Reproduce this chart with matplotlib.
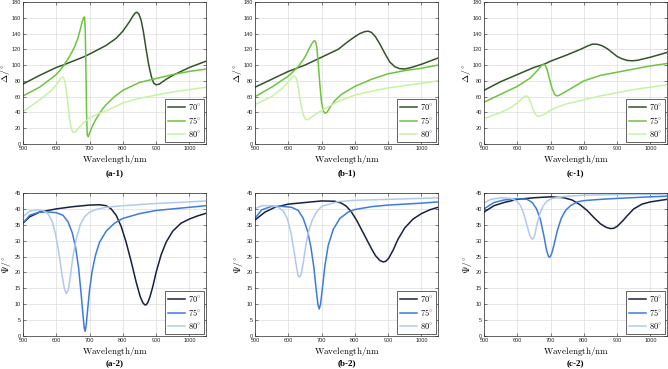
import matplotlib
matplotlib.use("Agg")
import matplotlib.pyplot as plt

plt.rcParams['mathtext.fontset'] = 'cm'
plt.rcParams['font.family'] = ['Liberation Sans', 'DejaVu Sans']

angles = ["70", "75", "80"]
green_colors = ["#34532a", "#6cc43f", "#c6f3a0"]
blue_colors = ["#17203f", "#3c7be0", "#b0c9f0"]

# ---- (a-1) Delta ----
a1_x70 = [500, 550, 600, 620, 680, 700, 750, 780, 800, 820, 830, 837, 842, 848, 855, 862, 870, 878, 886, 893, 900, 910, 930, 950, 1000, 1050]
a1_y70 = [76, 87, 97, 100, 110, 114, 125, 134, 143, 155, 162, 166, 167, 165, 157, 142, 120, 100, 85, 77, 75, 76, 82, 87, 97, 105]
a1_x75 = [500, 550, 600, 620, 640, 655, 665, 672, 678, 682, 685, 687, 689, 691, 693, 696, 700, 710, 720, 735, 750, 775, 800, 850, 900, 950, 1000, 1050]
a1_y75 = [61, 72, 88, 98, 111, 123, 134, 145, 155, 160, 161, 145, 100, 40, 12, 9, 14, 24, 32, 42, 50, 60, 68, 78, 83, 88, 92, 95]
a1_x80 = [500, 530, 560, 585, 600, 608, 614, 618, 622, 627, 633, 640, 645, 650, 656, 665, 680, 700, 725, 750, 800, 850, 900, 950, 1000, 1050]
a1_y80 = [41, 50, 59, 68, 75, 80, 84, 85, 84, 77, 58, 32, 20, 15, 15, 19, 26, 33, 38, 42, 52, 58, 62, 66, 69, 72]

# ---- (b-1) Delta ----
b1_x70 = [500, 550, 600, 650, 700, 750, 780, 800, 815, 830, 840, 850, 862, 875, 890, 905, 920, 935, 950, 970, 1000, 1050]
b1_y70 = [72, 82, 92, 100, 110, 120, 130, 136, 140, 142.5, 143, 141.5, 136, 127, 115, 104, 98, 95.5, 95, 97, 101, 109]
b1_x75 = [500, 550, 600, 630, 650, 663, 672, 678, 682, 686, 690, 695, 700, 705, 710, 716, 725, 740, 760, 800, 850, 900, 950, 1000, 1050]
b1_y75 = [60, 72, 86, 98, 110, 121, 128, 131, 130, 122, 103, 75, 53, 42, 39, 40, 46, 55, 63, 73, 82, 89, 93, 96, 100]
b1_x80 = [500, 550, 580, 600, 610, 617, 622, 627, 632, 638, 645, 652, 660, 670, 690, 720, 750, 800, 850, 900, 950, 1000, 1050]
b1_y80 = [50, 60, 70, 79, 84, 86, 85, 79, 66, 50, 37, 31, 31, 34, 40, 47, 54, 62, 67, 71, 74, 77, 80]

# ---- (c-1) Delta ----
c1_x70 = [500, 550, 600, 650, 680, 700, 750, 790, 810, 825, 840, 855, 870, 885, 900, 915, 930, 945, 960, 980, 1000, 1050]
c1_y70 = [68, 79, 88, 97, 101, 105, 113, 120, 124, 126.5, 126.5, 124.5, 121, 116, 111, 108, 106, 105.5, 106, 108, 110, 116]
c1_x75 = [500, 550, 600, 640, 660, 672, 678, 684, 690, 697, 705, 712, 718, 725, 735, 760, 800, 850, 900, 950, 1000, 1050]
c1_y75 = [53, 63, 73, 84, 93, 99, 101, 100, 94, 82, 70, 63, 61, 61.5, 64, 70, 80, 87, 91, 95, 99, 102]
c1_x80 = [500, 550, 580, 600, 615, 623, 628, 633, 640, 648, 655, 662, 670, 685, 700, 725, 750, 800, 850, 900, 950, 1000, 1050]
c1_y80 = [32, 40, 46, 52, 58, 60.5, 61, 59.5, 53, 43, 37.5, 35, 35.5, 38.5, 43, 47.5, 51, 56, 61, 65, 69, 72, 75]

# ---- (a-2) Psi ----
a2_x70 = [500, 520, 550, 600, 650, 700, 730, 750, 765, 780, 795, 810, 825, 840, 852, 860, 866, 870, 875, 882, 890, 900, 915, 930, 950, 975, 1000, 1025, 1050]
a2_y70 = [35.5, 37.5, 39, 40, 40.7, 41.2, 41.3, 41, 40, 38, 34.5, 29.5, 23.5, 17, 12.5, 10.5, 9.8, 9.8, 10.5, 12.5, 15.5, 20, 25.5, 29.5, 33, 35.5, 36.8, 37.8, 38.6]
a2_x75 = [500, 520, 550, 580, 600, 620, 635, 648, 658, 667, 675, 680, 684, 687, 690, 694, 700, 708, 718, 730, 750, 775, 800, 850, 900, 950, 1000, 1050]
a2_y75 = [35.5, 38, 39, 39, 38.8, 38, 36, 32.5, 28, 21.5, 13, 7, 2.5, 1.5, 3.5, 8, 14.5, 20.5, 25.5, 29.5, 33, 35.5, 37, 38.5, 39.5, 40, 40.5, 41]
a2_x80 = [500, 520, 540, 560, 575, 588, 598, 608, 617, 624, 630, 636, 642, 650, 660, 672, 685, 700, 725, 750, 800, 900, 1000, 1050]
a2_y80 = [37.5, 39.3, 39.7, 39.5, 38.5, 36, 32, 26, 19.5, 15, 13.3, 14.5, 18.5, 25, 30.5, 35, 37.5, 39, 40, 40.5, 41, 41.7, 42.2, 42.5]

# ---- (b-2) Psi ----
b2_x70 = [500, 530, 560, 600, 650, 700, 740, 760, 775, 790, 805, 820, 835, 850, 862, 875, 885, 893, 902, 915, 930, 950, 975, 1000, 1025, 1050]
b2_y70 = [36.5, 39, 40.5, 41.5, 42, 42.5, 42.4, 41.8, 40.8, 39, 36.5, 33.5, 30.5, 27.5, 25.3, 23.8, 23.3, 23.5, 24.5, 27, 30.5, 34, 36.8, 38.5, 39.7, 40.5]
b2_x75 = [500, 520, 550, 580, 610, 630, 645, 658, 668, 677, 684, 689, 693, 697, 702, 710, 720, 735, 755, 780, 800, 850, 900, 1000, 1050]
b2_y75 = [37, 39.7, 40.8, 40.8, 40.5, 39.5, 37, 33, 28, 21.5, 14.5, 10, 8.5, 10, 14.5, 22, 28.5, 33.5, 37, 39, 39.8, 40.7, 41.2, 41.8, 42.2]
b2_x80 = [500, 520, 550, 570, 585, 597, 608, 617, 625, 630, 634, 639, 645, 652, 660, 672, 685, 700, 750, 800, 900, 1000, 1050]
b2_y80 = [40, 41, 41, 40.5, 39.3, 37, 32.5, 27, 21.5, 19, 18.5, 19.5, 23, 28, 32.5, 36.5, 39, 40.8, 42.3, 42.7, 43, 43.3, 43.5]

# ---- (c-2) Psi ----
c2_x70 = [500, 530, 560, 600, 650, 700, 740, 765, 790, 810, 830, 850, 867, 880, 890, 900, 915, 930, 950, 975, 1000, 1050]
c2_y70 = [39, 41, 42, 43, 43.5, 43.8, 43.5, 42.8, 41.2, 39.5, 37.3, 35.3, 34.2, 33.8, 33.9, 34.5, 36, 37.8, 40, 41.5, 42.2, 43]
c2_x75 = [500, 530, 560, 600, 630, 645, 658, 670, 680, 688, 694, 698, 703, 710, 720, 732, 745, 760, 780, 800, 850, 900, 1000, 1050]
c2_y75 = [40, 42, 42.8, 43.2, 43, 42, 40, 36.5, 31.5, 27, 25, 24.8, 25.8, 28.5, 33, 37, 39.5, 41, 42.2, 42.6, 43, 43.3, 43.8, 44]
c2_x80 = [500, 520, 550, 580, 598, 610, 620, 630, 638, 644, 648, 653, 660, 668, 678, 690, 705, 750, 800, 900, 1050]
c2_y80 = [41.8, 43, 43.5, 43.3, 42.5, 41, 38.3, 34.5, 31.5, 30.5, 30.6, 32, 35.5, 38.5, 41, 42.5, 43.3, 44, 44.3, 44.5, 44.7]

x_ticks = [500, 600, 700, 800, 900, 1000]
delta_ticks = [0, 20, 40, 60, 80, 100, 120, 140, 160, 180]
psi_ticks = [0, 5, 10, 15, 20, 25, 30, 35, 40, 45]
panel_labels = ["(a-1)", "(b-1)", "(c-1)", "(a-2)", "(b-2)", "(c-2)"]

fig = plt.figure(figsize=(6.68, 3.69), dpi=100)
W, H = 668, 369
lefts = [23, 255, 484]
axw = 183
rows = [(2, 144), (193, 336)]
xlabel_y = [160, 352]
panel_y = [173, 363]
ylabel_x = [-0.097, -0.088]

top_data = [
    [(a1_x70, a1_y70), (a1_x75, a1_y75), (a1_x80, a1_y80)],
    [(b1_x70, b1_y70), (b1_x75, b1_y75), (b1_x80, b1_y80)],
    [(c1_x70, c1_y70), (c1_x75, c1_y75), (c1_x80, c1_y80)],
]
bot_data = [
    [(a2_x70, a2_y70), (a2_x75, a2_y75), (a2_x80, a2_y80)],
    [(b2_x70, b2_y70), (b2_x75, b2_y75), (b2_x80, b2_y80)],
    [(c2_x70, c2_y70), (c2_x75, c2_y75), (c2_x80, c2_y80)],
]

for r, (ytop, ybot) in enumerate(rows):
    for c in range(3):
        ax = fig.add_axes([lefts[c] / W, (H - ybot) / H, axw / W, (ybot - ytop) / H])
        data = top_data[c] if r == 0 else bot_data[c]
        colors = green_colors if r == 0 else blue_colors
        for (xs, ys), col, ang in zip(data, colors, angles):
            ax.plot(xs, ys, color=col, lw=1.1, label=r"$%s^{\circ}$" % ang)
        ax.set_xlim(500, 1050)
        ax.set_xticks(x_ticks)
        if r == 0:
            ax.set_ylim(0, 180)
            ax.set_yticks(delta_ticks)
            ax.set_ylabel(r"$\Delta/^{\circ}$", fontsize=7, va='center')
        else:
            ax.set_ylim(0, 45)
            ax.set_yticks(psi_ticks)
            ax.set_ylabel(r"$\Psi/^{\circ}$", fontsize=7, va='center')
        ax.yaxis.set_label_coords(ylabel_x[r], 0.5)
        ax.tick_params(labelsize=4, length=2, width=0.4, pad=1.5, direction='in',
                       colors='#262626', top=True, right=True)
        ax.grid(True, color='#dcdcdc', lw=0.5)
        ax.set_axisbelow(True)
        for sp in ax.spines.values():
            sp.set_linewidth(0.5)
            sp.set_color('#262626')
        xc = (lefts[c] + axw / 2) / W
        fig.text(xc, 1 - xlabel_y[r] / H, r"$\mathrm{Wavelength/nm}$", fontsize=6.5,
                 ha='center', va='center')
        leg = ax.legend(loc='lower right', fontsize=6, handlelength=2.1,
                        borderpad=0.35, labelspacing=0.35, handletextpad=0.3,
                        fancybox=False, framealpha=1, borderaxespad=0.25)
        leg.get_frame().set_edgecolor('#262626')
        leg.get_frame().set_linewidth(0.5)
        fig.text(xc, 1 - panel_y[r] / H, panel_labels[r * 3 + c],
                 ha='center', va='center', fontsize=6.5, fontweight='bold',
                 family='Liberation Serif')

fig.savefig("out.png", dpi=100)
